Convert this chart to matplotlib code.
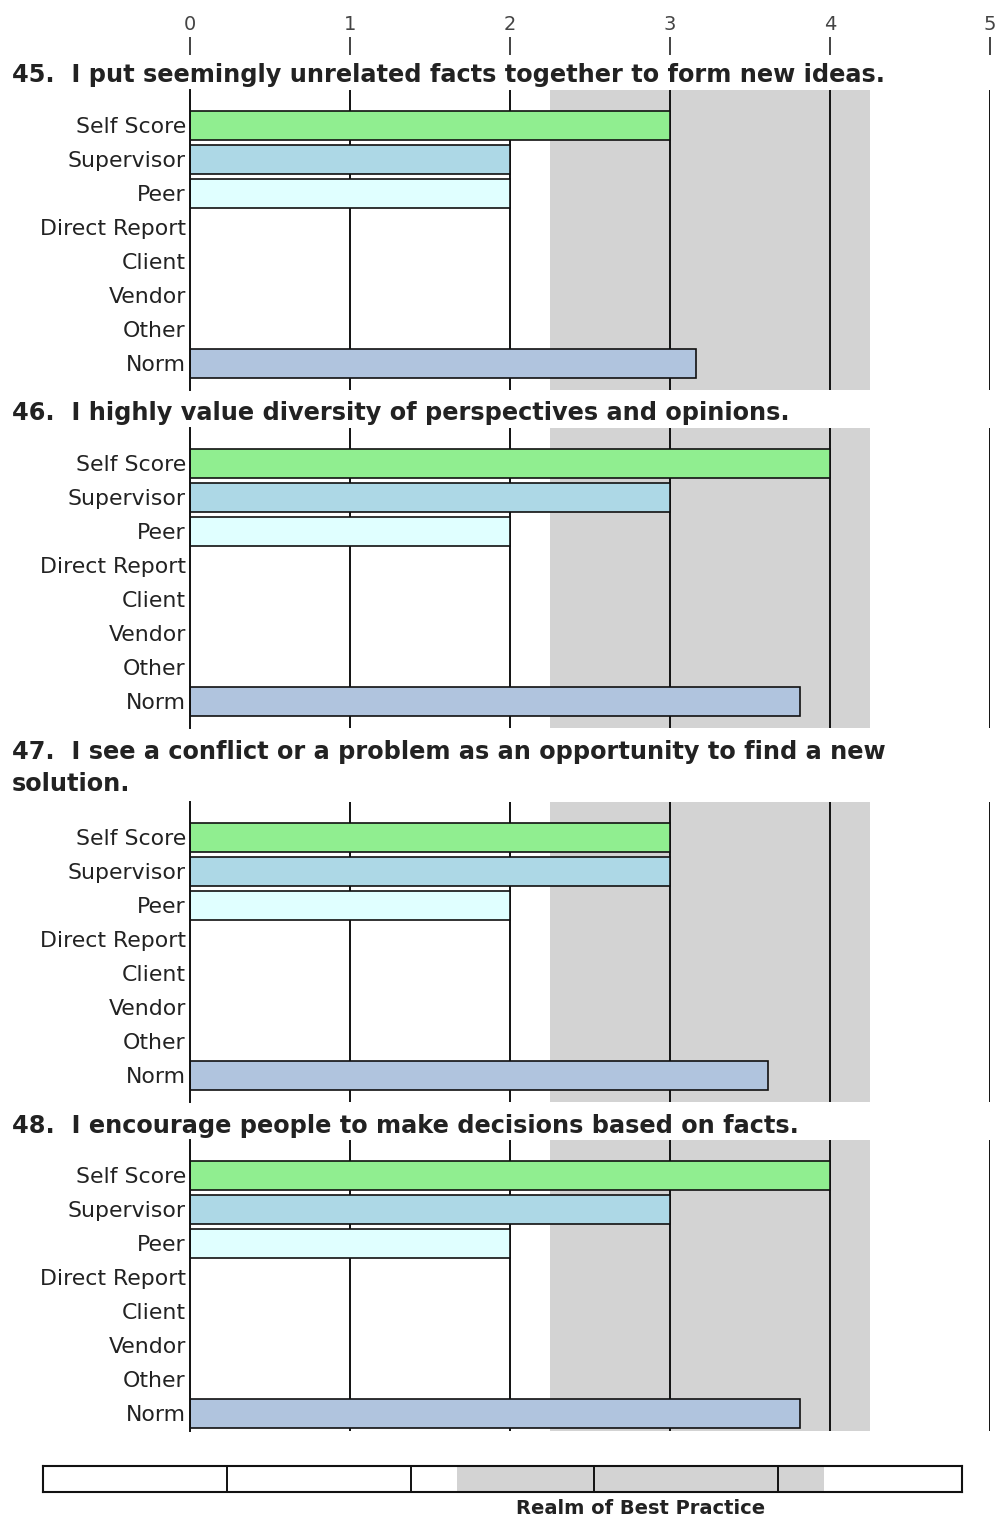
import matplotlib
matplotlib.use('Agg')

import matplotlib.pyplot as plt

# data
categories = ['Self Score', 'Supervisor', 'Peer', 'Direct Report', 'Client', 'Vendor', 'Other', 'Norm']
colors = ['#90EE90', '#ADD8E6', '#E0FFFF', '#FFFFFF', '#FFFFFF', '#FFFFFF', '#FFFFFF', '#B0C4DE']

questions = [
    '45.  I put seemingly unrelated facts together to form new ideas.',
    '46.  I highly value diversity of perspectives and opinions.',
    '47.  I see a conflict or a problem as an opportunity to find a new\nsolution.',
    '48.  I encourage people to make decisions based on facts.',
]
scores_45 = [3, 2, 2, None, None, None, None, 3.16]
scores_46 = [4, 3, 2, None, None, None, None, 3.81]
scores_47 = [3, 3, 2, None, None, None, None, 3.61]
scores_48 = [4, 3, 2, None, None, None, None, 3.81]
all_scores = [scores_45, scores_46, scores_47, scores_48]

scale_ticks = [0, 1, 2, 3, 4, 5]
best_lo, best_hi = 2.25, 4.25

W, H = 1000, 1518
fig = plt.figure(figsize=(W / 100, H / 100), dpi=100)

title_font = ['DejaVu Sans']
label_font = ['DejaVu Sans']


def px_axes(x0, y0, x1, y1):
    # pixel box (top-left origin) -> figure axes
    return fig.add_axes([x0 / W, 1 - y1 / H, (x1 - x0) / W, (y1 - y0) / H])


# top scale
ax_top = px_axes(190, 37, 990, 50)
ax_top.set_xlim(0, 5)
ax_top.set_ylim(0, 1)
for s in ax_top.spines.values():
    s.set_visible(False)
ax_top.set_yticks([])
ax_top.set_xticks(scale_ticks)
ax_top.set_xticklabels([str(t) for t in scale_ticks], family=title_font, fontsize=14, color='#444444')
ax_top.tick_params(axis='x', top=True, bottom=False, labeltop=True, labelbottom=False,
                   direction='in', length=13, width=1.2, color='#222222', pad=2)

# panel layout (pixel rows)
panels = [(90, 390), (428, 728), (802, 1102), (1140, 1431)]
title_y = [75, 413, 768, 1126]

for q, scores, (y0, y1), ty in zip(questions, all_scores, panels, title_y):
    ax = px_axes(190, y0, 990, y1)
    ax.set_xlim(0, 5)
    ax.set_ylim(-1.04 + (y1 - y0) / 34, -1.04)
    ax.axvspan(best_lo, best_hi, color='#D3D3D3', lw=0, zorder=0)
    for t in scale_ticks[1:]:
        ax.axvline(t, color='#111111', lw=1.4, zorder=1)
    for i, (v, c) in enumerate(zip(scores, colors)):
        if v is not None:
            ax.barh(i, v, height=0.86, color=c, edgecolor='#111111', lw=1.2, zorder=2)
    for name, s in ax.spines.items():
        s.set_visible(name == 'left')
    ax.spines['left'].set_linewidth(1.4)
    ax.spines['left'].set_color('#111111')
    ax.set_xticks([])
    ax.set_yticks(range(len(categories)))
    ax.set_yticklabels(categories, family=label_font, fontsize=15.8, color='#222222')
    ax.tick_params(axis='y', length=0, pad=3)
    ax.patch.set_alpha(0)

    fig.text(12 / W, 1 - ty / H, q, family=title_font, fontweight='bold', fontsize=17.3,
             color='#222222', ha='left', va='center', linespacing=1.4)

# legend scale at the bottom
ax_b = px_axes(43, 1466, 962, 1492)
ax_b.set_xlim(0, 5)
ax_b.set_ylim(0, 1)
ax_b.axvspan(best_lo, best_hi, color='#D3D3D3', lw=0, zorder=0)
for t in scale_ticks[1:-1]:
    ax_b.axvline(t, color='#111111', lw=1.4)
for s in ax_b.spines.values():
    s.set_linewidth(1.5)
    s.set_color('#111111')
ax_b.set_xticks([])
ax_b.set_yticks([])
ax_b.text((best_lo + best_hi) / 2, -0.62, 'Realm of Best Practice', family=title_font,
          fontweight='bold', fontsize=14, color='#222222', ha='center', va='center')

plt.savefig('out.png', dpi=100)
